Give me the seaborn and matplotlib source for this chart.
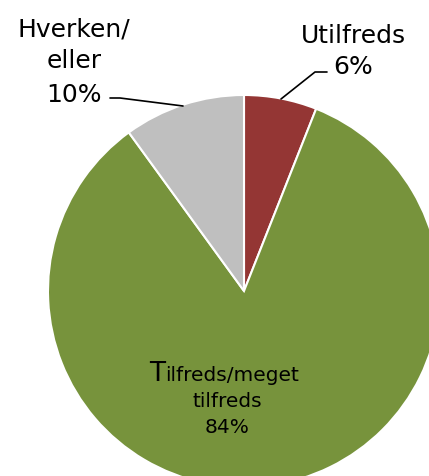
import matplotlib
matplotlib.use("Agg")
import matplotlib.pyplot as plt
import seaborn as sns

categories = ["Utilfreds", "Tilfreds/meget\ntilfreds", "Hverken/\neller"]
values = [6, 84, 10]
colors = ["#943634", "#77933C", "#BFBFBF"]

sns.set_style("white")
plt.rcParams['font.family'] = ['DejaVu Sans']
plt.rcParams['text.color'] = 'black'

W, H = 429, 477
fig = plt.figure(figsize=(W / 100, H / 100), dpi=100)
cx, cy, r = 244, 292, 196
ax = fig.add_axes([(cx - r) / W, (H - cy - r) / H, 2 * r / W, 2 * r / H])

ax.pie(values, colors=colors, startangle=90, counterclock=False,
       wedgeprops=dict(edgecolor="white", linewidth=1.5))
ax.set_xlim(-1, 1)
ax.set_ylim(-1, 1)
ax.set_aspect("equal")
ax.axis("off")


def d(px, py):
    return ((px - cx) / r, (cy - py) / r)


def lines(px, baselines, texts, size):
    for py, t in zip(baselines, texts):
        ax.text(*d(px, py), t, ha="center", va="baseline", fontsize=size,
                clip_on=False)


# Utilfreds
lines(353, [43, 74], [categories[0], f"{values[0]}%"], 18)
xs, ys = zip(d(281, 100), d(315, 73), d(327, 73))
ax.plot(xs, ys, color="black", lw=1.2, clip_on=False)

# Hverken/eller
hv = categories[2].split("\n")
lines(74, [37, 68, 102], hv + [f"{values[2]}%"], 18)
xs, ys = zip(d(110, 99), d(120, 99), d(183, 107))
ax.plot(xs, ys, color="black", lw=1.2, clip_on=False)

# Tilfreds (big T quirk)
first, second = categories[1].split("\n")
ax.text(*d(165, 381), first[0], ha="right", va="baseline", fontsize=19)
ax.text(*d(165, 381), first[1:], ha="left", va="baseline", fontsize=14.5)
lines(227, [407, 433], [second, f"{values[1]}%"], 14.5)

fig.savefig("out.png", dpi=100)
